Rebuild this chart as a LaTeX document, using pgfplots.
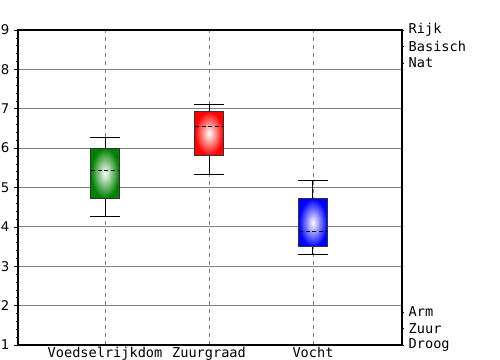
\documentclass[border=0pt]{standalone}
\usepackage{pgfplots}
\pgfplotsset{compat=1.18}
\usepgfplotslibrary{statistics}
\usepackage{fontspec}
\setmainfont{DejaVu Sans}
\newfontfamily\monofont{DejaVu Sans Mono}
\definecolor{gridgray}{RGB}{128,128,128}
\definecolor{bgreen}{RGB}{0,128,0}
\definecolor{bred}{RGB}{255,0,0}
\definecolor{bblue}{RGB}{0,0,255}
\begin{document}
\begin{tikzpicture}
\useasboundingbox (-13.5pt,-11.25pt) rectangle (361.5pt,258.75pt);
\begin{axis}[
  at={(0,0)}, anchor=south west,
  scale only axis, width=288pt, height=236.25pt,
  xmin=0.163, xmax=3.856, ymin=1, ymax=9,
  xtick={1,2,3}, xticklabels={Voedselrijkdom,Zuurgraad,Vocht},
  xticklabel style={font=\monofont\fontsize{10.2}{12.4}\selectfont, inner sep=0pt, yshift=1.5pt},
  ytick={1,...,9},
  minor y tick num=4,
  yticklabel style={font=\fontsize{10}{12}\selectfont},
  /pgf/number format/assume math mode=true,
  tick align=outside,
  major tick length=3pt, minor tick length=1.5pt,
  x tick style={draw=none},
  y tick style={black, line width=0.5pt},
  ytick pos=left,
  grid=major,
  y grid style={gridgray, line width=0.75pt},
  x grid style={gridgray, line width=0.6pt, dashed},
  axis line style={line width=1.5pt, black},
  boxplot/draw direction=y,
  boxplot/box extend=0.27,
  boxplot/whisker extend=0.29,
  boxplot/every whisker/.style={black, line width=0.75pt},
  boxplot/every median/.style={black, densely dashed, line width=0.75pt},
]
\addplot[black, line width=0.75pt, boxplot prepared={draw position=1, lower whisker=4.27, lower quartile=4.73, median=5.42, upper quartile=6.0, upper whisker=6.28},
  boxplot/every box/.style={inner color=white, outer color=bgreen, draw=black!80, line width=0.75pt}] coordinates {};
\addplot[black, line width=0.75pt, boxplot prepared={draw position=2, lower whisker=5.34, lower quartile=5.82, median=6.56, upper quartile=6.93, upper whisker=7.1},
  boxplot/every box/.style={inner color=white, outer color=bred, draw=black!80, line width=0.75pt}] coordinates {};
\addplot[black, line width=0.75pt, boxplot prepared={draw position=3, lower whisker=3.31, lower quartile=3.49, median=3.87, upper quartile=4.71, upper whisker=5.19},
  boxplot/every box/.style={inner color=white, outer color=bblue, draw=black!80, line width=0.75pt}] coordinates {};
\end{axis}
\begin{axis}[
  at={(0,0)}, anchor=south west,
  scale only axis, width=288pt, height=236.25pt,
  xmin=0.163, xmax=3.856, ymin=1, ymax=9,
  axis x line=none,
  axis y line*=right,
  axis line style={line width=1.5pt, black},
  ytick={1,1.42,1.84,8.16,8.58,9},
  yticklabels={Droog,Zuur,Arm,Nat,Basisch,Rijk},
  yticklabel style={font=\monofont\fontsize{10.2}{12.4}\selectfont, anchor=west},
  tick align=outside, major tick length=1.5pt,
  y tick style={black, line width=0.4pt},
]
\addplot[draw=none] coordinates {(1,1)};
\end{axis}
\end{tikzpicture}
\end{document}
